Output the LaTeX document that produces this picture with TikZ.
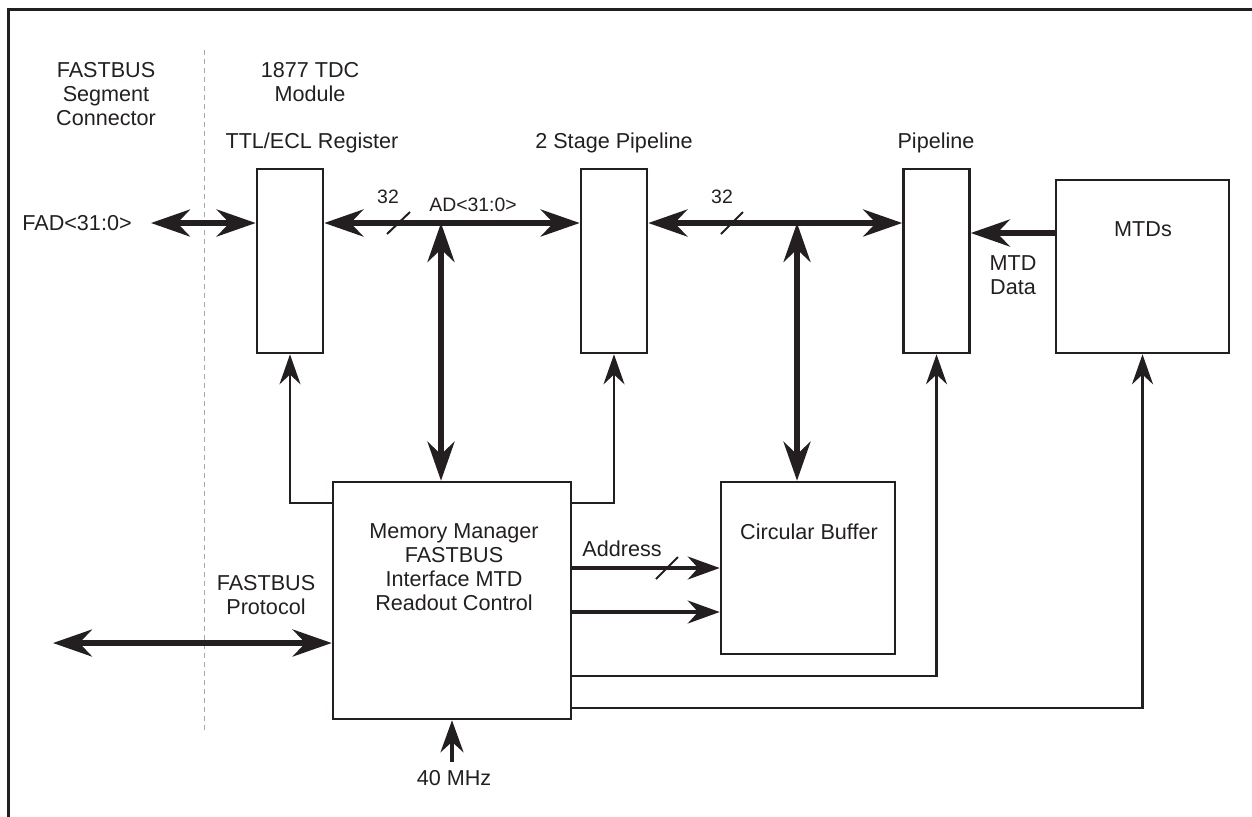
\documentclass[tikz,border=0pt]{standalone}
\usepackage{fontspec}
\setmainfont{Liberation Sans}
\usetikzlibrary{arrows.meta}
\definecolor{ink}{RGB}{35,31,32}
\tikzset{bigtip/.tip={Stealth[length=19.5pt,width=13.5pt]},smalltip/.tip={Stealth[length=15pt,width=10.5pt]},
  midtip/.tip={Stealth[length=16pt,width=11.5pt]},
  blk/.style={draw=ink,line width=1.3pt,inner sep=0pt},slim/.style={blk,minimum width=33pt,minimum height=92pt},
  bus/.style={color=ink,line width=2.6pt},sig/.style={color=ink,line width=1.6pt,-midtip},
  ctl/.style={color=ink,line width=1.3pt,-smalltip},slash/.style={color=ink,line width=1pt},
  txt/.style={font=\fontsize{10.8}{12}\selectfont,align=center,text=ink,inner sep=0pt},
  small/.style={font=\fontsize{9.7}{11}\selectfont,text=ink,inner sep=0pt}}
\begin{document}
\begin{tikzpicture}[x=0.5pt,y=-0.5pt]
\useasboundingbox (0,0) rectangle (1252,816);
\draw[ink,line width=1.5pt] (8,830) -- (8,9) -- (1262,9);
\draw[gray!70,line width=0.5pt,dash pattern=on 2.5pt off 2pt] (204,50) -- (204,730);
% blocks
\node[slim] (reg) at (290,261) {};\node[slim] (stage) at (614,261) {};\node[slim] (pipe) at (936.5,261) {};
\node[blk,minimum width=86.5pt,minimum height=86.5pt] (mtds) at (1142.5,266.5) {};
\node[blk,minimum width=119pt,minimum height=118.5pt] (mm) at (452,600.5) {};
\node[blk,minimum width=87pt,minimum height=86pt] (cb) at (808,568) {};
% texts
\node[txt] (segtxt) at (106,94) {FASTBUS\\Segment\\Connector};\node[txt] (modtxt) at (310,82) {1877 TDC\\Module};
\node[txt] (regtxt) at (312,143) {TTL/ECL Register};\node[txt] (stagetxt) at (614,143) {2 Stage Pipeline};
\node[txt] (pipetxt) at (936,143) {Pipeline};\node[txt] (mtdtxt) at (1143,229) {MTDs};
\node[txt] (datatxt) at (1013,275) {MTD\\Data};\node[txt] (fadtxt) at (77,223) {FAD<31:0>};
\node[txt] (mmtxt) at (454,567) {Memory Manager\\FASTBUS\\Interface MTD\\Readout Control};
\node[txt] (cbtxt) at (809,532) {Circular Buffer};\node[txt] (addrtxt) at (622,549) {Address};
\node[txt] (prototxt) at (266,595) {FASTBUS\\Protocol};\node[txt] (clktxt) at (454,778) {40 MHz};
\node[small] (wa) at (388,197) {32};\node[small] (wb) at (722,197) {32};\node[small] (adtxt) at (473,205) {AD<31:0>};
% buses
\coordinate (fad) at (151,223);\coordinate (tapa) at (441,223);\coordinate (tapb) at (797,223);
\coordinate (mtdout) at (1056,233);\coordinate (proto) at (53,643);\coordinate (clk) at (452,762);
\draw[bus,bigtip-bigtip] (fad) -- (reg.west |- fad);
\draw[bus,bigtip-bigtip] (reg.east |- fad) -- (stage.west |- fad);
\draw[bus,bigtip-bigtip] (stage.east |- fad) -- (pipe.west |- fad);
\draw[bus,bigtip-bigtip] (tapa) -- (tapa |- mm.north);\draw[bus,bigtip-bigtip] (tapb) -- (tapb |- cb.north);
\draw[bus,-bigtip] (mtdout) -- (pipe.east |- mtdout);
\draw[bus,bigtip-bigtip] (proto) -- (mm.west |- proto);
\draw[slash] (387,234) -- (410,212);\draw[slash] (721,234) -- (743,212);
% control
\draw[ctl] (mm.west |- 0,503) -| (reg.south);\draw[ctl] (mm.east |- 0,503) -| (stage.south);
\draw[ctl] (mm.east |- 0,676) -| (pipe.south);\draw[ctl] (mm.east |- 0,708) -| (mtds.south);
\draw[sig] (mm.east |- 0,568) -- (cb.west |- 0,568);\draw[sig] (mm.east |- 0,612) -- (cb.west |- 0,612);
\draw[slash] (656,579) -- (678,557);
\draw[sig] (clk) -- (mm.south);
\end{tikzpicture}
\end{document}
